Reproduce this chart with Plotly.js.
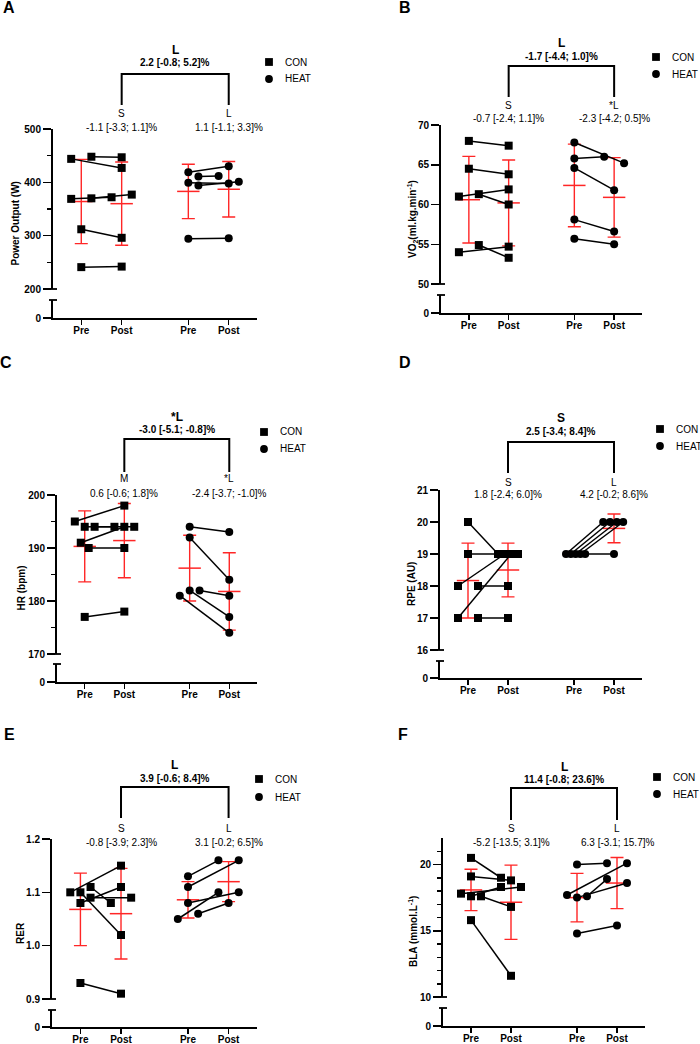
<!DOCTYPE html>
<html>
<head>
<meta charset="utf-8">
<script src="https://cdn.plot.ly/plotly-3.0.1.min.js"></script>
<style>
  html, body { margin: 0; padding: 0; background: #fff; }
  #chart { width: 700px; height: 1044px; }
</style>
</head>
<body>
<div id="chart"></div>
<script>
const W = 700
const H = 1044
const font = 'Liberation Sans, Arial, Helvetica, sans-serif'
const red = '#ff2626'

const timeLabels = ['Pre', 'Post', 'Pre', 'Post']
const slots = [1, 2, 3.65, 4.65] // CON pre/post, HEAT pre/post
const xRange = [0.3, 5.35]

// A - power output (W)
const conPreA = [444, 448, 369, 370, 312, 241]
const conPostA = [427, 447, 372, 377, 296, 242]
const conPreJitA = [-0.25, 0.25, -0.25, 0.25, 0, 0]
const conPostJitA = [0, 0, -0.25, 0.25, 0, 0]
const heatPreA = [419, 411, 399, 394, 294]
const heatPostA = [430, 412, 398, 401, 295]
const heatPreJitA = [0, 0.25, 0, 0.25, 0]
const heatPostJitA = [0, -0.25, 0, 0.25, 0]
const meanA = [364, 360, 383, 387]
const sdA = [79, 78, 51, 52]
const ticksA = [200, 300, 400, 500]
const minorA = [250, 350, 450]
const effectsA = ['L', '2.2 [-0.8; 5.2]%', 'S', '-1.1 [-3.3; 1.1]%', 'L', '1.1 [-1.1; 3.3]%']

// B - VO2
const conPreB = [68.0, 64.5, 61.0, 61.3, 54.0, 54.9]
const conPostB = [67.4, 63.8, 61.9, 60.0, 54.7, 53.3]
const conPreJitB = [0, 0, -0.25, 0.25, -0.25, 0.25]
const conPostJitB = [0, 0, 0, 0, 0, 0]
const heatPreB = [67.8, 65.8, 64.6, 58.1, 55.7]
const heatPostB = [65.2, 66.0, 61.8, 56.6, 55.0]
const heatPreJitB = [0, 0, 0, 0, 0]
const heatPostJitB = [0.25, -0.25, 0, 0, 0]
const meanB = [60.6, 60.2, 62.4, 60.9]
const sdB = [5.45, 5.4, 5.2, 5.0]
const ticksB = [50, 55, 60, 65, 70]
const minorB = []
const effectsB = ['L', '-1.7 [-4.4; 1.0]%', 'S', '-0.7 [-2.4; 1.1]%', '*L', '-2.3 [-4.2; 0.5]%']

// C - HR (bpm)
const conPreC = [195, 194, 194, 191, 190, 177]
const conPostC = [198, 194, 194, 194, 190, 178]
const conPreJitC = [-0.25, 0, 0.25, -0.1, 0.1, 0]
const conPostJitC = [0, -0.25, 0.25, 0, 0, 0]
const heatPreC = [194, 192, 182, 182, 181]
const heatPostC = [193, 184, 177, 181, 174]
const heatPreJitC = [0, 0, 0, 0.25, -0.25]
const heatPostJitC = [0, 0, 0, 0, 0]
const meanC = [190.3, 191.4, 186.2, 181.8]
const sdC = [6.7, 7.0, 6.2, 7.3]
const ticksC = [170, 180, 190, 200]
const minorC = [175, 185, 195]
const effectsC = ['*L', '-3.0 [-5.1; -0.8]%', 'M', '0.6 [-0.6; 1.8]%', '*L', '-2.4 [-3.7; -1.0]%']

// D - RPE (AU)
const conPreD = [20, 19, 18, 18, 17, 17]
const conPostD = [19, 19, 19, 18, 19, 17]
const conPreJitD = [0, 0, -0.25, 0.25, -0.25, 0.25]
const conPostJitD = [-0.25, 0.25, -0.08, 0, 0.08, 0]
const heatPreD = [19, 19, 19, 19, 19]
const heatPostD = [20, 20, 20, 20, 19]
const heatPreJitD = [-0.2, -0.08, 0.04, 0.16, 0.28]
const heatPostJitD = [-0.27, -0.1, 0.07, 0.23, 0]
const meanD = [18.17, 18.5, 19, 19.8]
const sdD = [1.17, 0.84, 0, 0.45]
const ticksD = [16, 17, 18, 19, 20, 21]
const minorD = []
const effectsD = ['S', '2.5 [-3.4; 8.4]%', 'S', '1.8 [-2.4; 6.0]%', 'L', '4.2 [-0.2; 8.6]%']

// E - RER
const conPreE = [1.10, 1.10, 1.11, 1.08, 1.09, 0.93]
const conPostE = [1.15, 1.02, 1.08, 1.11, 1.09, 0.91]
const conPreJitE = [-0.25, 0, 0.25, 0, 0.25, 0]
const conPostJitE = [0, 0, -0.25, 0, 0.25, 0]
const heatPreE = [1.13, 1.11, 1.08, 1.05, 1.06]
const heatPostE = [1.16, 1.16, 1.10, 1.10, 1.08]
const heatPreJitE = [0, 0, 0, -0.25, 0.25]
const heatPostJitE = [-0.25, 0.25, 0.25, -0.25, 0]
const meanE = [1.068, 1.06, 1.086, 1.12]
const sdE = [0.068, 0.085, 0.034, 0.0375]
const ticksE = [0.9, 1.0, 1.1, 1.2]
const minorE = []
const effectsE = ['L', '3.9 [-0.6; 8.4]%', 'S', '-0.8 [-3.9; 2.3]%', 'L', '3.1 [-0.2; 6.5]%']

// F - BLA (mmol/L)
const conPreF = [20.5, 19.1, 17.8, 17.6, 17.6, 15.8]
const conPostF = [19.0, 18.8, 18.3, 18.3, 16.8, 11.6]
const conPreJitF = [0, 0, -0.25, 0, 0.25, 0]
const conPostJitF = [-0.25, 0, 0.25, -0.25, 0, 0]
const heatPreF = [20.0, 17.7, 17.5, 17.6, 14.8]
const heatPostF = [20.1, 20.1, 18.6, 18.9, 15.4]
const heatPreJitF = [0, -0.25, 0, 0.25, 0]
const heatPostJitF = [-0.25, 0.25, 0.25, -0.25, 0]
const meanF = [18.08, 17.15, 17.5, 18.6]
const sdF = [1.56, 2.8, 1.83, 1.93]
const ticksF = [10, 15, 20]
const minorF = [11, 12, 13, 14, 16, 17, 18, 19, 21]
const effectsF = ['L', '11.4 [-0.8; 23.6]%', 'S', '-5.2 [-13.5; 3.1]%', 'L', '6.3 [-3.1; 15.7]%']

const panels = [
  {
    id: 'A', title: 'Power Output (W)', range: [200, 500], ticks: ticksA, minor: minorA, fmt: 'd',
    con: [conPreA, conPostA, conPreJitA, conPostJitA], heat: [heatPreA, heatPostA, heatPreJitA, heatPostJitA],
    mean: meanA, sd: sdA, effects: effectsA,
    box: {left: 53, right: 257, top: 129, bottom: 289, stubTop: 300, zero: 318},
    marks: {letter: [9, 8], titleX: 15, head: [50, 63], bracket: [74, 105], sub: [113, 127], legend: [269, 62, 79]},
  },
  {
    id: 'B', title: 'VO<sub>2</sub>(ml.kg.min<sup>-1</sup>)', range: [50, 70], ticks: ticksB, minor: minorB, fmt: 'd',
    con: [conPreB, conPostB, conPreJitB, conPostJitB], heat: [heatPreB, heatPostB, heatPreJitB, heatPostJitB],
    mean: meanB, sd: sdB, effects: effectsB,
    box: {left: 441, right: 642, top: 125, bottom: 284, stubTop: 295, zero: 313},
    marks: {letter: [405, 8], titleX: 412, head: [43, 56], bracket: [66, 97], sub: [106, 119], legend: [656, 57, 74]},
  },
  {
    id: 'C', title: 'HR (bpm)', range: [170, 200], ticks: ticksC, minor: minorC, fmt: 'd',
    con: [conPreC, conPostC, conPreJitC, conPostJitC], heat: [heatPreC, heatPostC, heatPreJitC, heatPostJitC],
    mean: meanC, sd: sdC, effects: effectsC,
    box: {left: 57, right: 257, top: 495, bottom: 654, stubTop: 664, zero: 682},
    marks: {letter: [6, 363], titleX: 21, head: [417, 430], bracket: [439, 472], sub: [478, 493], legend: [264, 432, 449]},
  },
  {
    id: 'D', title: 'RPE (AU)', range: [16, 21], ticks: ticksD, minor: minorD, fmt: 'd',
    con: [conPreD, conPostD, conPreJitD, conPostJitD], heat: [heatPreD, heatPostD, heatPreJitD, heatPostJitD],
    mean: meanD, sd: sdD, effects: effectsD,
    box: {left: 440, right: 642, top: 490, bottom: 650, stubTop: 661, zero: 678},
    marks: {letter: [405, 363], titleX: 411, head: [418, 432], bracket: [442, 473], sub: [482, 494], legend: [660, 429, 446]},
  },
  {
    id: 'E', title: 'RER', range: [0.9, 1.2], ticks: ticksE, minor: minorE, fmt: '.1f',
    con: [conPreE, conPostE, conPreJitE, conPostJitE], heat: [heatPreE, heatPostE, heatPreJitE, heatPostJitE],
    mean: meanE, sd: sdE, effects: effectsE,
    box: {left: 52, right: 257, top: 839, bottom: 999, stubTop: 1010, zero: 1027},
    marks: {letter: [9, 735], titleX: 20, head: [765, 778], bracket: [787, 818], sub: [828, 842], legend: [259, 779, 797]},
  },
  {
    id: 'F', title: 'BLA (mmol.L<sup>-1</sup>)', range: [10, 22], ticks: ticksF, minor: minorF, fmt: 'd',
    con: [conPreF, conPostF, conPreJitF, conPostJitF], heat: [heatPreF, heatPostF, heatPreJitF, heatPostJitF],
    mean: meanF, sd: sdF, effects: effectsF,
    box: {left: 443, right: 645, top: 838, bottom: 997, stubTop: 1008, zero: 1026},
    marks: {letter: [403, 735], titleX: 413, head: [767, 779], bracket: [788, 820], sub: [828, 842], legend: [657, 777, 794]},
  },
]

const px = (x) => x / W
const py = (y) => 1 - y / H

const tickFont = {family: font, size: 10, weight: 'bold', color: 'black'}

const pairTrace = ([pre, post, preJit, postJit], s0, s1, symbol, xa, ya) => {
  const x = []
  const y = []
  pre.forEach((v, k) => {
    x.push(slots[s0] + preJit[k], slots[s1] + postJit[k], null)
    y.push(v, post[k], null)
  })
  return {
    type: 'scatter', mode: 'lines+markers', x, y, xaxis: xa, yaxis: ya,
    connectgaps: false, cliponaxis: false, hoverinfo: 'skip',
    line: {color: 'black', width: 1.5},
    marker: {symbol, size: 8, color: 'black'},
  }
}

const data = []
const layout = {
  width: W, height: H,
  margin: {l: 0, r: 0, t: 0, b: 0, pad: 0},
  paper_bgcolor: 'white', plot_bgcolor: 'white',
  showlegend: false, hovermode: false,
  font: {family: font, size: 10, color: 'black'},
  annotations: [], shapes: [],
}

const note = (text, x, y, size, extra) => layout.annotations.push({
  text, x: px(x), y: py(y), xref: 'paper', yref: 'paper',
  xanchor: 'center', yanchor: 'middle', showarrow: false,
  font: {family: font, size, color: 'black'}, ...extra,
})

const line = (x0, y0, x1, y1, width) => layout.shapes.push({
  type: 'line', xref: 'paper', yref: 'paper',
  x0: px(x0), y0: py(y0), x1: px(x1), y1: py(y1),
  line: {color: 'black', width},
})

panels.forEach((p, i) => {
  const n = i + 1
  const xKey = n === 1 ? '' : String(n)
  const xa = 'x' + xKey
  const mainN = 2 * i + 1
  const stubN = 2 * i + 2
  const ya = mainN === 1 ? 'y' : 'y' + mainN
  const ys = 'y' + stubN
  const {box, marks} = p
  const toPx = (v) => box.left + (v - xRange[0]) / (xRange[1] - xRange[0]) * (box.right - box.left)

  layout['xaxis' + xKey] = {
    domain: [px(box.left), px(box.right)], range: xRange, anchor: ys,
    tickmode: 'array', tickvals: slots, ticktext: timeLabels,
    ticks: 'outside', ticklen: 5, tickwidth: 1.5, tickcolor: 'black', ticklabelstandoff: -3,
    showline: true, linewidth: 2, linecolor: 'black',
    showgrid: false, zeroline: false, fixedrange: true, tickfont: tickFont,
  }
  layout['yaxis' + (mainN === 1 ? '' : mainN)] = {
    domain: [py(box.bottom), py(box.top)], range: p.range, anchor: xa,
    tickmode: 'array', tickvals: p.ticks, tickformat: p.fmt,
    ticks: 'outside', ticklen: 8, tickwidth: 1.5, tickcolor: 'black',
    minor: {tickmode: 'array', tickvals: p.minor, ticks: 'outside', ticklen: 4, tickwidth: 1.5, tickcolor: 'black', showgrid: false},
    showline: true, linewidth: 2, linecolor: 'black',
    showgrid: false, zeroline: false, fixedrange: true, tickfont: tickFont,
  }
  layout['yaxis' + stubN] = {
    domain: [py(box.zero), py(box.stubTop)], range: [0, 1], anchor: xa,
    tickmode: 'array', tickvals: [0], ticktext: ['0'],
    ticks: 'outside', ticklen: 8, tickwidth: 1.5, tickcolor: 'black',
    showline: true, linewidth: 2, linecolor: 'black',
    showgrid: false, zeroline: false, fixedrange: true, tickfont: tickFont,
  }

  // empty trace so the lower axis segment (the "0" stub) gets its own subplot
  data.push({type: 'scatter', mode: 'markers', x: [null], y: [null], xaxis: xa, yaxis: ys, hoverinfo: 'skip'})

  // mean +/- SD in red, under the individual data
  data.push({
    type: 'scatter', mode: 'markers', x: slots, y: p.mean, xaxis: xa, yaxis: ya,
    cliponaxis: false, hoverinfo: 'skip',
    marker: {symbol: 'line-ew', size: 16, color: red, line: {color: red, width: 1.5}},
    error_y: {type: 'data', array: p.sd, visible: true, color: red, thickness: 1.4, width: 6.5},
  })
  data.push(pairTrace(p.con, 0, 1, 'square', xa, ya))
  data.push(pairTrace(p.heat, 2, 3, 'circle', xa, ya))

  // axis break caps
  line(box.left - 4, box.bottom, box.left + 4, box.bottom, 1.8)
  line(box.left - 4, box.stubTop, box.left + 4, box.stubTop, 1.8)

  // comparison bracket between the two Post columns
  const bx0 = toPx(slots[1])
  const bx1 = toPx(slots[3])
  const [bt, bb] = marks.bracket
  layout.shapes.push({
    type: 'path', xref: 'paper', yref: 'paper',
    path: `M ${px(bx0)},${py(bb)} L ${px(bx0)},${py(bt)} L ${px(bx1)},${py(bt)} L ${px(bx1)},${py(bb)}`,
    line: {color: 'black', width: 2},
  })
  const mid = (bx0 + bx1) / 2
  const e = p.effects
  note(`<b>${e[0]}</b>`, mid, marks.head[0], 12)
  note(`<b>${e[1]}</b>`, mid, marks.head[1], 10)
  note(e[2], bx0, marks.sub[0], 10)
  note(e[3], bx0, marks.sub[1], 10)
  note(e[4], bx1, marks.sub[0], 10)
  note(e[5], bx1, marks.sub[1], 10)

  // panel letter and axis title
  note(`<b>${p.id}</b>`, marks.letter[0], marks.letter[1], 16)
  note(`<b>${p.title}</b>`, marks.titleX, (box.top + box.zero) / 2, 10, {textangle: -90})

  // legend
  const [lx, ly0, ly1] = marks.legend
  const r = 3.9
  layout.shapes.push({
    type: 'rect', xref: 'paper', yref: 'paper',
    x0: px(lx - r), x1: px(lx + r), y0: py(ly0 + r), y1: py(ly0 - r),
    fillcolor: 'black', line: {width: 0},
  })
  layout.shapes.push({
    type: 'circle', xref: 'paper', yref: 'paper',
    x0: px(lx - r), x1: px(lx + r), y0: py(ly1 + r), y1: py(ly1 - r),
    fillcolor: 'black', line: {width: 0},
  })
  note('CON', lx + 14, ly0, 10, {xanchor: 'left'})
  note('HEAT', lx + 14, ly1, 10, {xanchor: 'left'})
})

Plotly.newPlot('chart', data, layout, {staticPlot: true, displayModeBar: false})
</script>
</body>
</html>
